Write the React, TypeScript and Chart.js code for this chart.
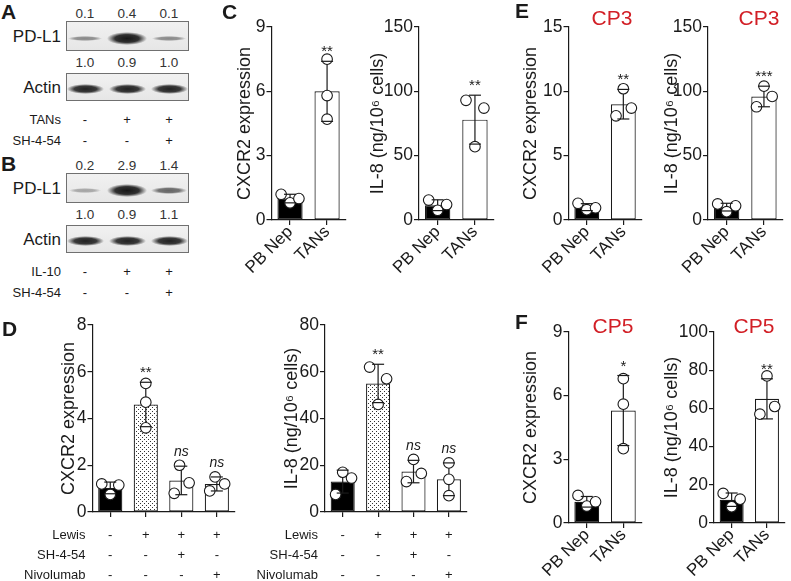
import React, { useEffect, useRef } from 'react';
import { Chart, registerables } from 'chart.js';

Chart.register(...registerables);

// ---------------- data ----------------
const TWO_GROUPS = ['PB Nep', 'TANs'];
const D_GROUPS = ['1', '2', '3', '4'];

// Panel A / B (western blot quantification)
const A_PDL1 = [0.1, 0.4, 0.1];
const A_ACTIN = [1.0, 0.9, 1.0];
const A_TANS = ['-', '+', '+'];
const A_SH = ['-', '-', '+'];
const B_PDL1 = [0.2, 2.9, 1.4];
const B_ACTIN = [1.0, 0.9, 1.1];
const B_IL10 = ['-', '+', '+'];
const B_SH = ['-', '-', '+'];

// Panel C
const C1_MEAN = [1.0, 6.0];
const C1_SD = [0.2, 1.4];
const C1_PB = [1.2, 0.8, 1.0];
const C1_TAN = [7.5, 5.8, 4.7];
const C1_SIG = ['', '**'];
const C2_MEAN = [11.5, 78];
const C2_SD = [4.2, 19];
const C2_PB = [15.5, 7.5, 12];
const C2_TAN = [93, 57, 87];
const C2_SIG = ['', '**'];

// Panel D
const D_LEWIS = ['-', '+', '+', '+'];
const D_SH = ['-', '-', '+', '-'];
const D_NIVO = ['-', '-', '-', '+'];
const D1_MEAN = [1.03, 4.6, 1.35, 1.2];
const D1_SD = [0.25, 0.95, 0.61, 0.3];
const D1_G1 = [1.2, 0.75, 1.15];
const D1_G2 = [5.5, 4.7, 3.6];
const D1_G3 = [2.0, 0.8, 1.25];
const D1_G4 = [1.5, 0.9, 1.2];
const D1_SIG = ['', '**', 'ns', 'ns'];
const D2_MEAN = [13, 55, 17.3, 14];
const D2_SD = [4.9, 8.2, 4.8, 7];
const D2_G1 = [17, 7.5, 14.5];
const D2_G2 = [62, 46, 57];
const D2_G3 = [22.5, 13, 16.5];
const D2_G4 = [21, 14, 7];
const D2_SIG = ['', '**', 'ns', 'ns'];

// Panel E (CP3)
const E1_MEAN = [1.0, 9.0];
const E1_SD = [0.27, 1.15];
const E1_PB = [1.3, 0.8, 0.95];
const E1_TAN = [10.2, 8.1, 8.7];
const E1_SIG = ['', '**'];
const E2_MEAN = [10, 96];
const E2_SD = [3, 8];
const E2_PB = [12.5, 6.5, 11];
const E2_TAN = [104, 88, 96];
const E2_SIG = ['', '***'];

// Panel F (CP5)
const F1_MEAN = [1.0, 5.3];
const F1_SD = [0.25, 1.65];
const F1_PB = [1.3, 0.8, 1.0];
const F1_TAN = [6.8, 5.6, 3.5];
const F1_SIG = ['', '*'];
const F2_MEAN = [12.2, 65];
const F2_SD = [3.5, 10.5];
const F2_PB = [15.5, 8.5, 12.5];
const F2_TAN = [77, 57, 61];
const F2_SIG = ['', '**'];

const Y_CXCR2 = 'CXCR2 expression';
const Y_IL8 = 'IL-8 (ng/10\u2076 cells)';

// ---------------- styles ----------------
const FONT = "'Liberation Sans', Arial, Helvetica, sans-serif";
const INK = '#1a1a1a';
const RED = '#d21f26';
const LW = 1.2;
const TITLE_SIZE = 18;
const TICK_SIZE = 17.5;
const XLAB_SIZE = 17;
const SPREAD = [-0.24, 0, 0.24];
const STACK = [0, 0, 0];
const TOP_MID = [0, -0.2, 0.22];
const LANES = [85, 127, 169];
const TABLE_ROWS = [23, 43, 63];

type Frame = { left: number; top: number; width: number; height: number; yW: number; xH: number; padTop: number; padRight: number; padBottom: number; titlePad: number };

function frame(areaLeft: number, areaW: number, areaTop: number, areaBottom: number, titleX: number, xH: number, bottomExtra: number, extraRight = 2, canvasLeft?: number): Frame {
  const half = (TITLE_SIZE * 1.2) / 2;
  const left = canvasLeft ?? Math.round(titleX - half);
  const titlePad = titleX - left - half;
  const top = Math.round(areaTop - 14);
  const padTop = areaTop - top;
  const yW = areaLeft - left;
  const width = Math.ceil(yW + areaW + extraRight);
  const padRight = width - yW - areaW;
  const height = Math.ceil(padTop + (areaBottom - areaTop) + xH + bottomExtra);
  const padBottom = height - padTop - (areaBottom - areaTop) - xH;
  return { left, top, width, height, yW, xH, padTop, padRight, padBottom, titlePad };
}

type Spec = {
  f: Frame;
  labels: string[];
  showX: boolean;
  means: number[];
  sds: number[];
  pts: number[][];
  jit: number[][];
  fills: string[];
  sig: string[];
  yMax: number;
  yStep: number;
  yTitle: string;
  table?: { label: string; marks: string[] }[];
};

function makeDots(ctx: CanvasRenderingContext2D): CanvasPattern {
  const t = document.createElement('canvas');
  t.width = 4;
  t.height = 4;
  const g = t.getContext('2d')!;
  g.fillStyle = '#ffffff';
  g.fillRect(0, 0, 4, 4);
  g.fillStyle = '#333333';
  g.fillRect(0, 0, 1, 1);
  g.fillRect(2, 2, 1, 1);
  return ctx.createPattern(t, 'repeat')!;
}

function BarPanel({ spec }: { spec: Spec }) {
  const ref = useRef<HTMLCanvasElement>(null);
  useEffect(() => {
    const canvas = ref.current!;
    const ctx = canvas.getContext('2d')!;
    const n = spec.labels.length;
    const scatter: { x: number; y: number }[] = [];
    spec.pts.forEach((arr, i) => arr.forEach((v, k) => scatter.push({ x: i + spec.jit[i][k], y: v })));
    const fills = spec.fills.map((f) => (f === 'dots' ? makeDots(ctx) : f));

    const plugin = {
      id: 'errbars',
      afterDatasetDraw(chart: any, args: any) {
        if (args.index !== 0) return;
        const c = chart.ctx;
        const xs = chart.scales.x;
        const ys = chart.scales.y;
        c.save();
        c.strokeStyle = INK;
        c.lineWidth = LW;
        spec.means.forEach((m, i) => {
          const px = xs.getPixelForValue(i);
          c.beginPath();
          c.moveTo(px, ys.getPixelForValue(m - spec.sds[i]));
          c.lineTo(px, ys.getPixelForValue(m + spec.sds[i]));
          c.stroke();
        });
        c.restore();
      },
      afterDatasetsDraw(chart: any) {
        const c = chart.ctx;
        const xs = chart.scales.x;
        const ys = chart.scales.y;
        c.save();
        c.strokeStyle = INK;
        c.lineWidth = LW;
        spec.means.forEach((m, i) => {
          const px = xs.getPixelForValue(i);
          [m - spec.sds[i], m + spec.sds[i]].forEach((v) => {
            const py = ys.getPixelForValue(v);
            c.beginPath();
            c.moveTo(px - 6, py);
            c.lineTo(px + 6, py);
            c.stroke();
          });
          const s = spec.sig[i];
          if (s) {
            const topPx = ys.getPixelForValue(m + spec.sds[i]);
            c.fillStyle = INK;
            c.textAlign = 'center';
            c.textBaseline = 'alphabetic';
            if (s === 'ns') {
              c.font = `italic 14px ${FONT}`;
              c.fillText(s, px, topPx - 10);
            } else {
              c.font = `15px ${FONT}`;
              c.fillText(s, px, topPx - 5);
            }
          }
        });
        c.restore();
      },
      afterDraw(chart: any) {
        if (!spec.table) return;
        const c = chart.ctx;
        const xs = chart.scales.x;
        const area = chart.chartArea;
        c.save();
        c.font = `13px ${FONT}`;
        c.fillStyle = INK;
        c.textBaseline = 'middle';
        spec.table.forEach((row, r) => {
          const yy = area.bottom + TABLE_ROWS[r];
          c.textAlign = 'right';
          c.fillText(row.label, area.left - 7, yy);
          c.textAlign = 'center';
          row.marks.forEach((mk, i) => c.fillText(mk, xs.getPixelForValue(i), yy));
        });
        c.restore();
      },
    };

    const chart = new Chart(ctx, {
      type: 'bar',
      data: {
        labels: spec.labels,
        datasets: [
          {
            type: 'bar',
            data: spec.means,
            backgroundColor: fills as any,
            borderColor: INK,
            borderWidth: LW,
            borderSkipped: false,
            grouped: false,
            barPercentage: 0.68,
            categoryPercentage: 1,
            order: 2,
          } as any,
          {
            type: 'scatter',
            data: scatter,
            xAxisID: 'x2',
            yAxisID: 'y',
            pointRadius: 5.3,
            pointBackgroundColor: '#ffffff',
            pointBorderColor: INK,
            pointBorderWidth: 1.1,
            order: 1,
          } as any,
        ],
      },
      options: {
        responsive: false,
        animation: false,
        events: [],
        layout: { padding: { top: spec.f.padTop, right: spec.f.padRight, bottom: spec.f.padBottom, left: 0 } },
        plugins: { legend: { display: false }, tooltip: { enabled: false } },
        scales: {
          x: {
            type: 'category',
            offset: true,
            grid: { display: true, drawOnChartArea: false, drawTicks: true, tickLength: 5, offset: false, color: INK, lineWidth: LW },
            border: { display: true, color: INK, width: LW },
            ticks: { display: spec.showX, font: { family: FONT, size: XLAB_SIZE }, color: INK, minRotation: 45, maxRotation: 45, padding: -3, autoSkip: false },
            afterFit: (s: any) => {
              s.height = spec.f.xH;
            },
          },
          x2: {
            type: 'linear',
            position: 'bottom',
            display: true,
            min: -0.5,
            max: n - 0.5,
            offset: false,
            ticks: { display: false },
            grid: { display: false, drawTicks: false },
            border: { display: false },
            afterFit: (s: any) => {
              s.height = 0;
              s.paddingLeft = 0;
              s.paddingRight = 0;
            },
          },
          y: {
            type: 'linear',
            min: 0,
            max: spec.yMax,
            ticks: { stepSize: spec.yStep, font: { family: FONT, size: TICK_SIZE }, color: INK, padding: 1 },
            grid: { drawOnChartArea: false, drawTicks: true, tickLength: 5, color: INK, lineWidth: LW },
            border: { display: true, color: INK, width: LW },
            title: { display: true, text: spec.yTitle, font: { family: FONT, size: TITLE_SIZE }, color: INK, padding: { top: spec.f.titlePad, bottom: 0 } },
            afterFit: (s: any) => {
              s.width = spec.f.yW;
            },
          },
        } as any,
      },
      plugins: [plugin],
    });
    return () => chart.destroy();
  }, []);
  return (
    <canvas
      ref={ref}
      width={spec.f.width}
      height={spec.f.height}
      style={{ position: 'absolute', left: spec.f.left, top: spec.f.top, width: spec.f.width, height: spec.f.height }}
    />
  );
}

function T({ x, y, s, children, align = 'center', bold = false, color = INK }: any) {
  const tx = align === 'center' ? '-50%' : align === 'right' ? '-100%' : '0';
  return (
    <div
      style={{
        position: 'absolute',
        left: x,
        top: y,
        transform: `translate(${tx}, -50%)`,
        fontFamily: FONT,
        fontSize: s,
        fontWeight: bold ? 700 : 400,
        lineHeight: 1,
        whiteSpace: 'nowrap',
        color,
      }}
    >
      {children}
    </div>
  );
}

const BOX_LEFT = 66;
const BOX_W = 123;

function Blot({ top, h, values, kind }: { top: number; h: number; values: number[]; kind: 'target' | 'actin' }) {
  const max = Math.max(...values);
  return (
    <div
      style={{
        position: 'absolute',
        left: BOX_LEFT,
        top,
        width: BOX_W,
        height: h,
        boxSizing: 'border-box',
        border: '1px solid #707070',
        background: 'linear-gradient(#f1f1f1, #e6e6e6)',
        overflow: 'hidden',
      }}
    >
      {values.map((v, i) => {
        const rel = v / max;
        const bh = kind === 'actin' ? 9 + rel : 3.5 + 9 * rel;
        const bw = kind === 'actin' ? 37 : 32 + 8 * rel;
        const op = kind === 'actin' ? 0.95 : 0.28 + 0.72 * rel;
        const cx = LANES[i] - BOX_LEFT - 1;
        const cy = h * 0.55;
        return (
          <div
            key={i}
            style={{
              position: 'absolute',
              left: cx - bw / 2,
              top: cy - bh / 2,
              width: bw,
              height: bh,
              borderRadius: '50%',
              background: `radial-gradient(closest-side, rgba(22,22,22,${op}) 0%, rgba(22,22,22,${op * 0.88}) 60%, rgba(22,22,22,0) 100%)`,
              filter: 'blur(0.6px)',
            }}
          />
        );
      })}
    </div>
  );
}

function BlotPanel({ dy, letter, target, actin, cond1Label, cond1, cond2 }: any) {
  return (
    <>
      <T x={1} y={dy + 11} s={21} bold align="left">{letter}</T>
      {target.map((v: number, i: number) => (
        <T key={'t' + i} x={LANES[i]} y={dy + 14} s={13.5} color="#333">{v.toFixed(1)}</T>
      ))}
      <Blot top={dy + 21} h={30} values={target} kind="target" />
      <T x={61} y={dy + 36} s={17} align="right">PD-L1</T>
      {actin.map((v: number, i: number) => (
        <T key={'a' + i} x={LANES[i]} y={dy + 63} s={13.5} color="#333">{v.toFixed(1)}</T>
      ))}
      <Blot top={dy + 73} h={28} values={actin} kind="actin" />
      <T x={61} y={dy + 87} s={17} align="right">Actin</T>
      <T x={61} y={dy + 119} s={13} align="right">{cond1Label}</T>
      {cond1.map((m: string, i: number) => (
        <T key={'c1' + i} x={LANES[i]} y={dy + 119} s={13}>{m}</T>
      ))}
      <T x={61} y={dy + 140} s={13} align="right">SH-4-54</T>
      {cond2.map((m: string, i: number) => (
        <T key={'c2' + i} x={LANES[i]} y={dy + 140} s={13}>{m}</T>
      ))}
    </>
  );
}

const D_TABLE = [
  { label: 'Lewis', marks: D_LEWIS },
  { label: 'SH-4-54', marks: D_SH },
  { label: 'Nivolumab', marks: D_NIVO },
];

const SPECS: Spec[] = [
  { f: frame(271.5, 78, 27, 220, 245, 56, 2), labels: TWO_GROUPS, showX: true, means: C1_MEAN, sds: C1_SD, pts: [C1_PB, C1_TAN], jit: [SPREAD, STACK], fills: ['#000000', '#ffffff'], sig: C1_SIG, yMax: 9, yStep: 3, yTitle: Y_CXCR2 },
  { f: frame(419, 79, 27, 220, 378, 56, 2), labels: TWO_GROUPS, showX: true, means: C2_MEAN, sds: C2_SD, pts: [C2_PB, C2_TAN], jit: [SPREAD, SPREAD], fills: ['#000000', '#ffffff'], sig: C2_SIG, yMax: 150, yStep: 50, yTitle: Y_IL8 },
  { f: frame(568.5, 77, 27, 220, 531, 56, 2), labels: TWO_GROUPS, showX: true, means: E1_MEAN, sds: E1_SD, pts: [E1_PB, E1_TAN], jit: [SPREAD, TOP_MID], fills: ['#000000', '#ffffff'], sig: E1_SIG, yMax: 15, yStep: 5, yTitle: Y_CXCR2 },
  { f: frame(708, 80, 27, 220, 672, 56, 2, 1), labels: TWO_GROUPS, showX: true, means: E2_MEAN, sds: E2_SD, pts: [E2_PB, E2_TAN], jit: [SPREAD, TOP_MID], fills: ['#000000', '#ffffff'], sig: E2_SIG, yMax: 150, yStep: 50, yTitle: Y_IL8 },
  { f: frame(92.5, 146, 325, 512, 69, 6, 63, 2, 0), labels: D_GROUPS, showX: false, means: D1_MEAN, sds: D1_SD, pts: [D1_G1, D1_G2, D1_G3, D1_G4], jit: [SPREAD, STACK, [-0.05, -0.2, 0.22], [-0.05, -0.2, 0.22]], fills: ['#000000', 'dots', '#ffffff', '#ffffff'], sig: D1_SIG, yMax: 8, yStep: 2, yTitle: Y_CXCR2, table: D_TABLE },
  { f: frame(325, 146, 325, 512, 292, 6, 63, 2, 240), labels: D_GROUPS, showX: false, means: D2_MEAN, sds: D2_SD, pts: [D2_G1, D2_G2, D2_G3, D2_G4], jit: [[0, -0.2, 0.25], SPREAD, TOP_MID, STACK], fills: ['#000000', 'dots', '#ffffff', '#ffffff'], sig: D2_SIG, yMax: 80, yStep: 20, yTitle: Y_IL8, table: D_TABLE },
  { f: frame(568.5, 77, 332, 523, 531, 56, 2), labels: TWO_GROUPS, showX: true, means: F1_MEAN, sds: F1_SD, pts: [F1_PB, F1_TAN], jit: [SPREAD, STACK], fills: ['#000000', '#ffffff'], sig: F1_SIG, yMax: 9, yStep: 3, yTitle: Y_CXCR2 },
  { f: frame(714, 76, 332, 523, 672, 56, 2, 1), labels: TWO_GROUPS, showX: true, means: F2_MEAN, sds: F2_SD, pts: [F2_PB, F2_TAN], jit: [SPREAD, TOP_MID], fills: ['#000000', '#ffffff'], sig: F2_SIG, yMax: 100, yStep: 20, yTitle: Y_IL8 },
];

export default function App() {
  return (
    <div style={{ position: 'absolute', left: 0, top: 0, width: 791, height: 581, overflow: 'hidden', background: '#ffffff' }}>
      <BlotPanel dy={0} letter="A" target={A_PDL1} actin={A_ACTIN} cond1Label="TANs" cond1={A_TANS} cond2={A_SH} />
      <BlotPanel dy={152} letter="B" target={B_PDL1} actin={B_ACTIN} cond1Label="IL-10" cond1={B_IL10} cond2={B_SH} />
      {SPECS.map((s, i) => (
        <BarPanel key={i} spec={s} />
      ))}
      <T x={222} y={11} s={21} bold align="left">C</T>
      <T x={2} y={328} s={21} bold align="left">D</T>
      <T x={515} y={10} s={21} bold align="left">E</T>
      <T x={515} y={321} s={21} bold align="left">F</T>
      <T x={612} y={17} s={21} color={RED}>CP3</T>
      <T x={759} y={17} s={21} color={RED}>CP3</T>
      <T x={613} y={325} s={21} color={RED}>CP5</T>
      <T x={754} y={325} s={21} color={RED}>CP5</T>
    </div>
  );
}
